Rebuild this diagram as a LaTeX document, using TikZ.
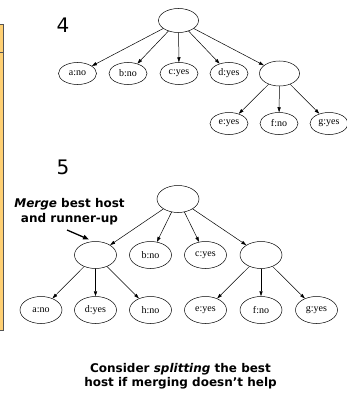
\documentclass[tikz,border=0pt]{standalone}
\usepackage{fontspec}
\setmainfont{Liberation Serif}
\newfontfamily\vfont{DejaVu Sans}
\usetikzlibrary{shapes.geometric,arrows.meta}
\definecolor{boxfill}{HTML}{FFD073}
\definecolor{boxline}{HTML}{555555}
\tikzset{
  tn/.style={ellipse,draw,line width=0.5pt,minimum width=38pt,minimum height=22pt,inner sep=0pt,font=\fontsize{10}{11}\selectfont},
  tnb/.style={tn,minimum width=42pt,minimum height=27pt},
  edge/.style={-{Triangle[length=5pt,width=3.2pt]},line width=0.5pt},
  num/.style={font=\vfont\fontsize{20}{22}\selectfont,inner sep=0pt},
  note/.style={font=\vfont\bfseries\fontsize{12}{15}\selectfont,align=center,inner sep=0pt},
  noteb/.style={note,font=\vfont\bfseries\fontsize{12}{13.5}\selectfont},
}
\begin{document}
\begin{tikzpicture}[x=1pt,y=-1pt]
\useasboundingbox (0,0) rectangle (347,396);
% left box edge
\draw[boxline,fill=boxfill,line width=0.8pt] (-20,24) rectangle (3.5,330);
\draw[boxline,line width=0.8pt] (-20,52) -- (3.5,52);
% diagram 4
\node[num] (n4) at (63,25) {4};
\node[tn,minimum width=40pt,minimum height=24pt] (r4) at (178.5,20.5) {};
\node[tn] (a4) at (77.5,73.5) {a:no};
\node[tn] (b4) at (128,73.5) {b:no};
\node[tn] (c4) at (179,73.5) {c:yes};
\node[tn] (d4) at (229,73.5) {d:yes};
\node[tn,minimum width=40pt,minimum height=25pt] (x4) at (279.5,73.5) {};
\node[tn] (e4) at (229,123.5) {e:yes};
\node[tn] (f4) at (279,123.5) {f:no};
\node[tn] (g4) at (329,123.5) {g:yes};
\foreach \t in {a4,b4,c4,d4,x4} \draw[edge] (r4) -- (\t);
\foreach \t in {e4,f4,g4} \draw[edge] (x4) -- (\t);
% diagram 5
\node[num] (n5) at (63,167) {5};
\node[tnb] (r5) at (178,199) {};
\node[tnb] (l5) at (95.5,255) {};
\node[tnb] (b5) at (150.5,255) {b:no};
\node[tnb] (c5) at (205.5,255) {c:yes};
\node[tnb] (x5) at (261,255) {};
\node[tnb] (a5) at (41,310) {a:no};
\node[tnb] (d5) at (95.5,310) {d:yes};
\node[tnb] (h5) at (150.5,310) {h:no};
\node[tnb] (e5) at (205.5,310) {e:yes};
\node[tnb] (f5) at (261,310) {f:no};
\node[tnb] (g5) at (316.5,310) {g:yes};
\foreach \t in {l5,b5,c5,x5} \draw[edge] (r5) -- (\t);
\foreach \t in {a5,d5,h5} \draw[edge] (l5) -- (\t);
\foreach \t in {e5,f5,g5} \draw[edge] (x5) -- (\t);
% notes
\node[note] (m) at (69.5,212) {\textit{Merge} best host\\and runner-up};
\coordinate (ms) at (67,230);
\coordinate (me) at (89,239.5);
\draw[-{Triangle[length=6pt,width=4.5pt]},line width=1.3pt] (ms) -- (me);
\node[noteb] (s) at (180.5,376) {Consider \textit{splitting} the best\\host if merging doesn’t help};
\end{tikzpicture}
\end{document}
